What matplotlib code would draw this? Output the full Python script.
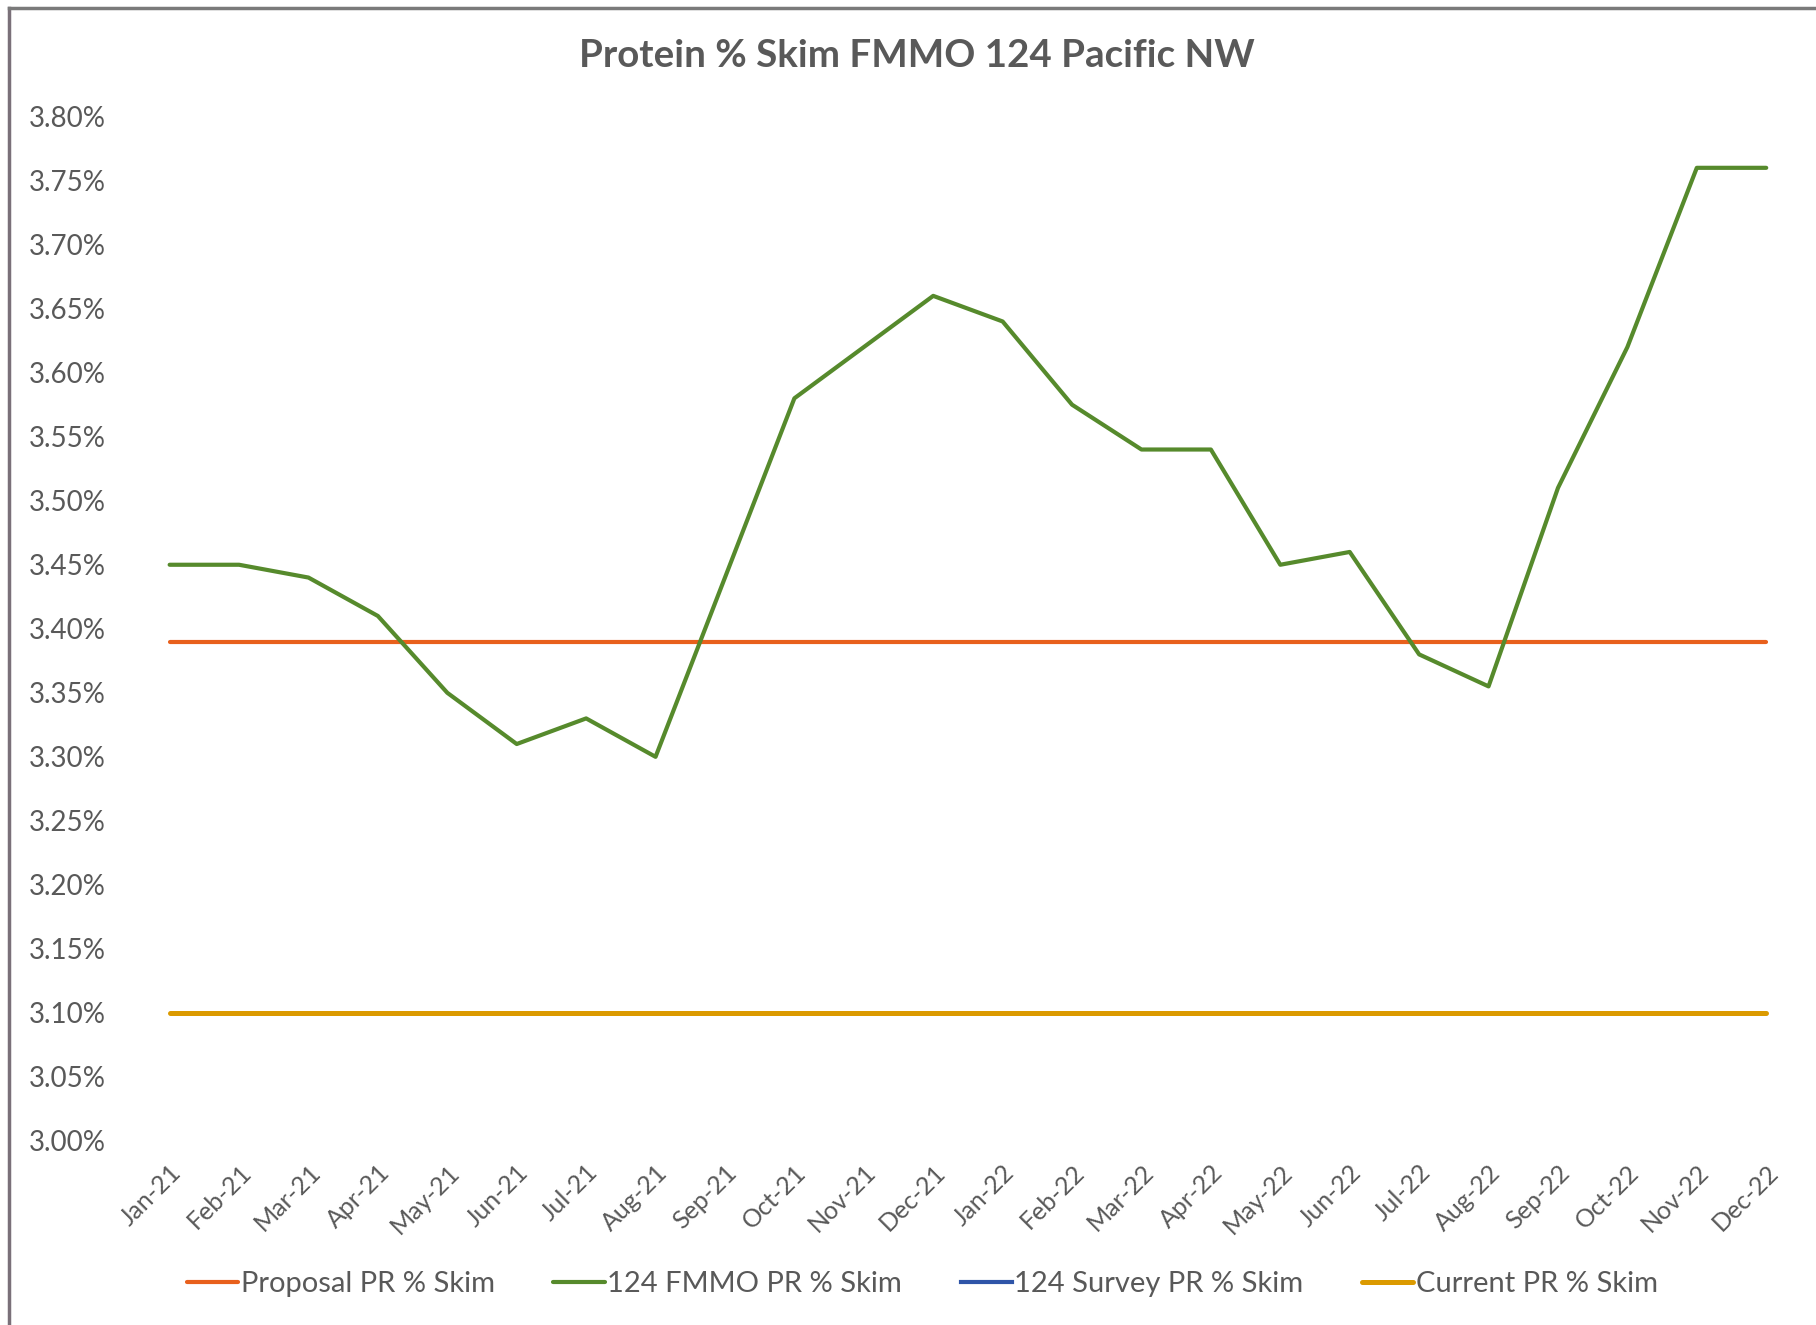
import matplotlib
matplotlib.use('Agg')
import matplotlib.pyplot as plt
import numpy as np
from matplotlib.lines import Line2D
from matplotlib.ticker import FuncFormatter

months = ['Jan-21', 'Feb-21', 'Mar-21', 'Apr-21', 'May-21', 'Jun-21', 'Jul-21', 'Aug-21',
          'Sep-21', 'Oct-21', 'Nov-21', 'Dec-21', 'Jan-22', 'Feb-22', 'Mar-22', 'Apr-22',
          'May-22', 'Jun-22', 'Jul-22', 'Aug-22', 'Sep-22', 'Oct-22', 'Nov-22', 'Dec-22']
proposal = [3.39] * 24
fmmo = [3.45, 3.45, 3.44, 3.41, 3.35, 3.31, 3.33, 3.30,
        3.44, 3.58, 3.62, 3.66, 3.64, 3.575, 3.54, 3.54,
        3.45, 3.46, 3.38, 3.355, 3.51, 3.62, 3.76, 3.76]
survey = [np.nan] * 24
current = [3.10] * 24

plt.rcParams['font.family'] = ['Lato', 'DejaVu Sans']
txt = '#595959'

fig = plt.figure(figsize=(18.16, 13.25), dpi=100)
ax = fig.add_axes([0.0743, 0.1389, 0.9174, 0.7731])

x = np.arange(len(months))
ax.plot(x, proposal, color='#E8601C', lw=3.0, solid_capstyle='round', label='Proposal PR % Skim')
ax.plot(x, fmmo, color='#568A2C', lw=3.0, solid_capstyle='round', label='124 FMMO PR % Skim')
ax.plot(x, survey, color='#2F55A8', lw=3.0, label='124 Survey PR % Skim')
ax.plot(x, current, color='#DB9A00', lw=3.6, solid_capstyle='round', label='Current PR % Skim')

ax.set_xlim(-0.5, len(months) - 0.5)
ax.set_ylim(3.0, 3.8)
ax.set_yticks(np.arange(3.0, 3.801, 0.05))
ax.yaxis.set_major_formatter(FuncFormatter(lambda v, p: f'{v:.2f}%'))
ax.set_xticks(x)
ax.set_xticklabels(months, rotation=45, ha='right', rotation_mode='anchor')
ax.tick_params(axis='both', length=0, labelcolor=txt)
ax.tick_params(axis='x', pad=14, labelsize=18)
ax.tick_params(axis='y', pad=21, labelsize=20)
for s in ax.spines.values():
    s.set_visible(False)

fig.text(0.505, 0.958, 'Protein % Skim FMMO 124 Pacific NW', ha='center', va='center',
         fontsize=27.7, fontweight='bold', color=txt)

fig.legend(loc='center', bbox_to_anchor=(0.508, 0.031), ncol=4, frameon=False,
           fontsize=21, labelcolor=txt, handlelength=1.75, handletextpad=0.1,
           columnspacing=2.0)

# chart frame (left and top edges)
fig.add_artist(Line2D([0.005, 0.005], [0, 0.994], transform=fig.transFigure, color='#7a7079', lw=2.5))
fig.add_artist(Line2D([0.005, 1.0], [0.994, 0.994], transform=fig.transFigure, color='#7a7a7a', lw=2.5))

fig.savefig('out.png', dpi=100)
